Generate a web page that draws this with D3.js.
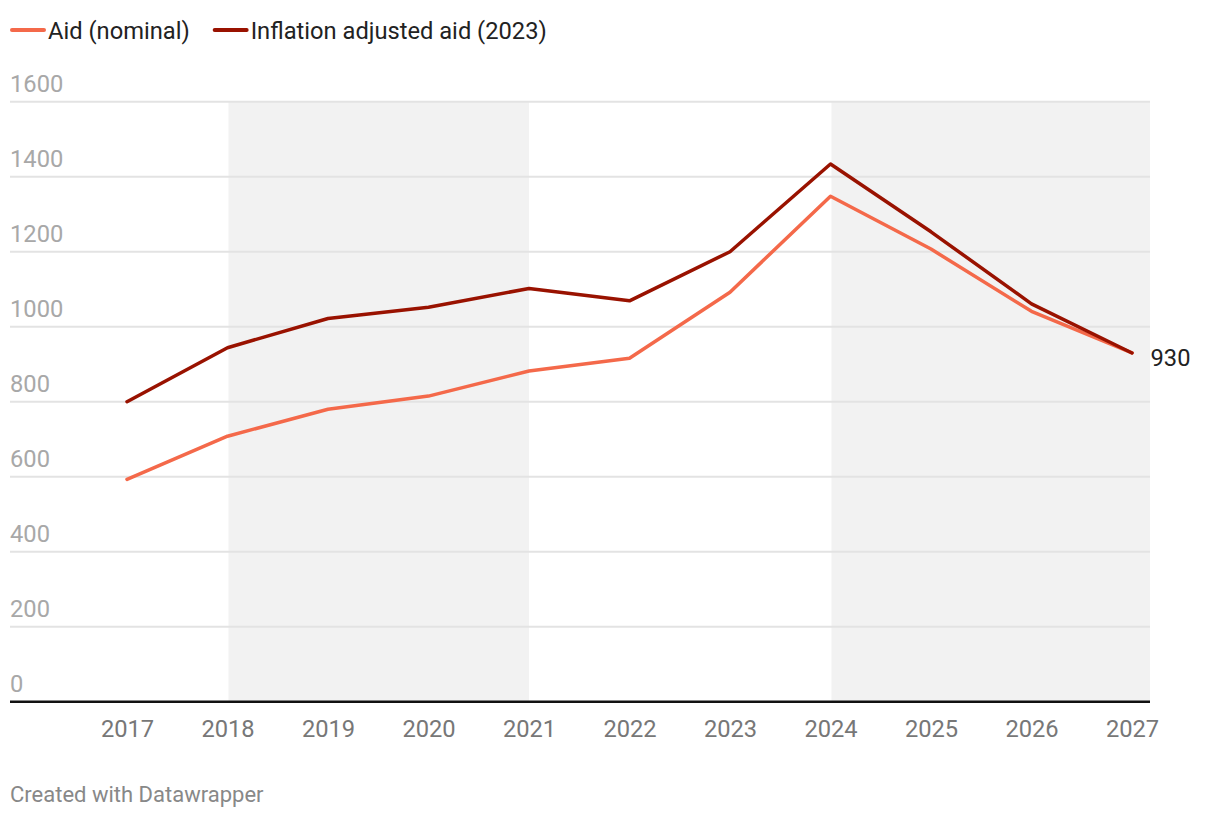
<!DOCTYPE html>
<html>
<head>
<meta charset="utf-8">
<script src="https://cdn.jsdelivr.net/npm/d3@7"></script>
<style>
  html, body { margin: 0; padding: 0; background: #fff; }
  svg { display: block; font-family: Roboto, "Noto Sans", sans-serif; }
</style>
</head>
<body>
<svg id="chart" width="1220" height="818"></svg>
<script>
const years = [2017, 2018, 2019, 2020, 2021, 2022, 2023, 2024, 2025, 2026, 2027];
const aidNominal = [593, 708, 780, 815, 882, 916, 1092, 1348, 1207, 1041, 930];
const aidInflationAdjusted = [800, 944, 1022, 1052, 1102, 1069, 1200, 1434, 1253, 1061, 930];
const yTicks = [0, 200, 400, 600, 800, 1000, 1200, 1400, 1600];
const shadedRanges = [[2018, 2021], [2024, 2027]];
const seriesNames = ["Aid (nominal)", "Inflation adjusted aid (2023)"];
const seriesColors = ["#f4694a", "#991200"];
const endLabel = "930";
const footer = "Created with Datawrapper";

const svg = d3.select("#chart");
const plotLeft = 10, plotRight = 1150, plotTop = 101.7, plotBottom = 701.7;
const fs = 23.7;

const x = d3.scaleLinear().domain([2017, 2027]).range([127, 1132]);
const y = d3.scaleLinear().domain([0, 1600]).range([plotBottom, plotTop]);

// shaded bands
svg.append("g").selectAll("rect").data(shadedRanges).join("rect")
  .attr("x", d => x(d[0]) + 1)
  .attr("width", d => (d[1] === 2027 ? plotRight : x(d[1])) - (x(d[0]) + 1))
  .attr("y", plotTop)
  .attr("height", plotBottom - plotTop)
  .attr("fill", "#f2f2f2");

// gridlines
svg.append("g").selectAll("line").data(yTicks.filter(t => t > 0)).join("line")
  .attr("x1", plotLeft).attr("x2", plotRight)
  .attr("y1", d => y(d)).attr("y2", d => y(d))
  .attr("stroke", "#e3e3e3").attr("stroke-width", 2);

// y labels
svg.append("g").selectAll("text").data(yTicks).join("text")
  .attr("x", plotLeft)
  .attr("y", d => y(d) - 10)
  .attr("fill", "#a8a8a8")
  .attr("font-size", fs)
  .text(d => d);

// x axis line
svg.append("line")
  .attr("x1", plotLeft).attr("x2", plotRight)
  .attr("y1", y(0)).attr("y2", y(0))
  .attr("stroke", "#111").attr("stroke-width", 2.5);

// x labels
const xAxis = d3.axisBottom(x).tickValues(years).tickFormat(d3.format("d")).tickSize(0).tickPadding(0);
const xg = svg.append("g").attr("transform", `translate(0,${plotBottom})`).call(xAxis);
xg.select(".domain").remove();
xg.selectAll("text")
  .attr("y", 0).attr("dy", 35)
  .attr("fill", "#777").attr("font-size", fs)
  .attr("font-family", "Roboto, sans-serif");

// lines
const line = d3.line().x((d, i) => x(years[i])).y(d => y(d));
[aidNominal, aidInflationAdjusted].forEach((s, k) => {
  svg.append("path").datum(s)
    .attr("d", line)
    .attr("fill", "none")
    .attr("stroke", seriesColors[k])
    .attr("stroke-width", 3.5)
    .attr("stroke-linejoin", "round")
    .attr("stroke-linecap", "round");
});

// end label
svg.append("text")
  .attr("x", x(2027) + 18.5)
  .attr("y", y(930) + 13)
  .attr("fill", "#222").attr("font-size", fs)
  .text(endLabel);

// legend
const lg = svg.append("g");
let lx = 10;
seriesNames.forEach((name, i) => {
  lg.append("line")
    .attr("x1", lx + 2).attr("x2", lx + 34)
    .attr("y1", 30).attr("y2", 30)
    .attr("stroke", seriesColors[i]).attr("stroke-width", 4).attr("stroke-linecap", "round");
  const t = lg.append("text")
    .attr("x", lx + 38).attr("y", 38.5)
    .attr("fill", "#222").attr("font-size", fs)
    .text(name);
  lx += 38 + t.node().getComputedTextLength() + 23;
});

// footer
svg.append("text")
  .attr("x", 10).attr("y", 802)
  .attr("fill", "#888").attr("font-size", 22)
  .text(footer);
</script>
</body>
</html>
